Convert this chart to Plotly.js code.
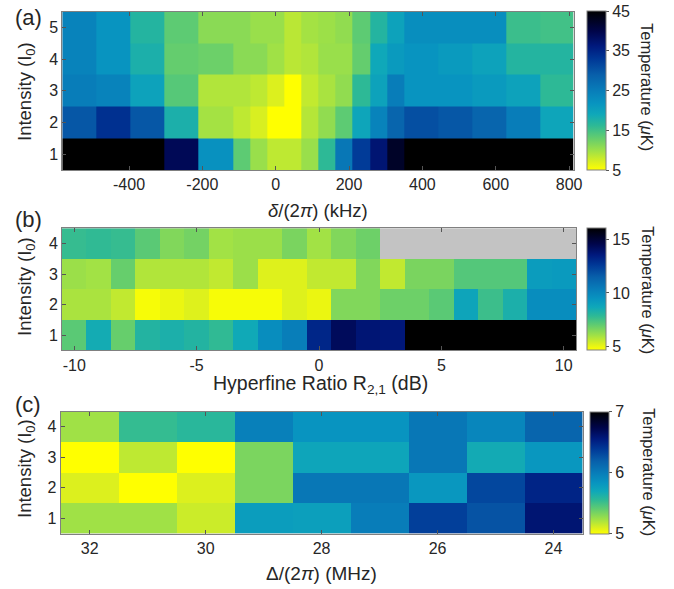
<!DOCTYPE html>
<html>
<head>
<meta charset="utf-8">
<script src="https://cdn.plot.ly/plotly-3.0.1.min.js"></script>
<style>html,body{margin:0;padding:0;background:#fff;}#chart{width:674px;height:589px;}</style>
</head>
<body>
<div id="chart"></div>
<script>
// ---------- DATA ----------
// Panel (a): detuning bin edges (kHz) and temperature (uK), rows = intensity 1..5
const detuningEdgesA = [-582,-489,-396,-303,-210,-117,-70,-23.5,23.5,70,117,163,210,257,303,350,443,536,629,722,812];
const intensityA = [1,2,3,4,5];
const tempA = [
  [45,45,45,39,22.2,13.4,10.2,8.4,8.4,10.2,16.2,25.8,32.6,37,42.2,45,45,45,45,45],
  [29.8,33.8,29.8,17.8,9.6,8.4,7.2,5,5,8.8,10.6,13.4,19.4,24.2,28.2,30.6,29.8,28.2,25,19.4],
  [25,24.2,19.8,13.8,9,9,8.4,7,5,8.2,9.4,10.6,16.2,19.8,25,21.8,21.8,21,19.8,16.2],
  [24.2,21.8,17.8,13,12.6,11,11,9.8,8.6,9,10.2,10.2,13,19,21,21.8,21,19.8,17,17],
  [24.2,21.8,17,13.4,11,11,10.2,10.2,8.6,9.6,10,10.6,13.4,17,19.8,22.6,22.6,22.6,15.4,15]
];
const ticksA = [-400,-200,0,200,400,600,800];
const tickTextA = ['-400','-200','0','200','400','600','800'];
const cbTicksA = [5,15,25,35,45];

// Panel (b): hyperfine ratio (dB), rows = intensity 1..4 (null = not measured)
const ratioB = [-10,-9,-8,-7,-6,-5,-4,-3,-2,-1,0,1,2,3,4,5,6,7,8,9,10];
const intensityB = [1,2,3,4];
const tempB = [
  [7.1,8.5,6.9,8.1,8.3,8.1,7.8,8.6,9.7,10.3,13.1,14.2,13.7,13.6,16,16,16,16,16,16,16],
  [5.9,5.9,5.6,4.8,5.0,5.2,4.8,4.8,4.8,5.2,5.0,6.5,6.5,6.8,6.8,7.1,8.8,7.6,8.3,9.7,9.7],
  [6.1,6.0,6.9,5.8,5.8,5.8,5.6,6.1,5.2,5.2,5.6,5.6,6.5,5.6,6.6,6.6,7.2,7.2,7.2,9.1,9.2],
  [7.7,7.8,7.7,7.1,6.5,6.7,6.0,6.1,6.1,6.6,6.0,6.5,6.8,null,null,null,null,null,null,null,null]
];
const ticksB = [-10,-5,0,5,10];
const tickTextB = ['-10','-5','0','5','10'];
const cbTicksB = [5,10,15];

// Panel (c): detuning Delta/(2pi) (MHz), rows = intensity 1..4
const deltaC = [32,31,30,29,28,27,26,25,24];
const intensityC = [1,2,3,4];
const tempC = [
  [5.24,5.24,5.14,5.78,5.76,6.0,6.36,6.26,6.6],
  [5.1,5.0,5.1,5.34,6.04,6.04,5.82,6.32,6.5],
  [5.0,5.17,5.0,5.34,5.72,5.72,6.04,5.68,5.82],
  [5.24,5.54,5.58,5.98,5.84,5.84,6.04,5.94,6.16]
];
const ticksC = [32,30,28,26,24];
const cbTicksC = [5,6,7];

// ---------- STYLE ----------
const W = 674, H = 589;
const px = x => x / W;
const py = y => 1 - y / H;
const FONT = '"Liberation Sans", Arial, Helvetica, sans-serif';
const TXT = '#262626';
const cscale = [
  [0,'rgb(255,255,0)'],[0.05,'rgb(220,240,30)'],[0.12,'rgb(160,225,70)'],
  [0.2,'rgb(100,205,110)'],[0.28,'rgb(45,185,150)'],[0.35,'rgb(15,168,185)'],
  [0.42,'rgb(8,148,192)'],[0.5,'rgb(8,125,185)'],[0.6,'rgb(8,95,170)'],
  [0.7,'rgb(0,55,150)'],[0.78,'rgb(0,25,125)'],[0.87,'rgb(0,5,75)'],[1,'rgb(0,0,0)']
];

function cbar(x0, top, bottom, tickvals) {
  return {
    x: px(x0), xanchor: 'left', xpad: 0,
    y: py(bottom), yanchor: 'bottom', ypad: 0,
    len: (bottom - top) / H, lenmode: 'fraction',
    thickness: 19, thicknessmode: 'pixels',
    outlinewidth: 1, outlinecolor: '#808080',
    ticks: 'outside', ticklen: 3, tickcolor: '#555',
    tickvals: tickvals, tickfont: {size: 16, color: TXT, family: FONT}
  };
}

const traces = [
  {type:'heatmap', x: detuningEdgesA, y: intensityA, z: tempA, zmin:5, zmax:45,
   colorscale: cscale, xaxis:'x', yaxis:'y', colorbar: cbar(587, 11.5, 170, cbTicksA)},
  {type:'heatmap', x: ratioB, y: intensityB, z: tempB, zmin:4.67, zmax:16,
   colorscale: cscale, xaxis:'x2', yaxis:'y2', colorbar: cbar(587, 228.3, 350.3, cbTicksB)},
  {type:'heatmap', x: deltaC, y: intensityC, z: tempC, zmin:5, zmax:7,
   colorscale: cscale, xaxis:'x3', yaxis:'y3', colorbar: cbar(590, 411.5, 533.5, cbTicksC)}
];

function axis(extra) {
  return Object.assign({
    showline: true, mirror: 'ticks', linecolor: '#808080', linewidth: 1,
    ticks: 'inside', ticklen: 4, tickcolor: '#555', showgrid: false, zeroline: false,
    tickfont: {size: 16, color: TXT, family: FONT}, fixedrange: true
  }, extra);
}

function ann(text, x, y, size, angle) {
  return {text: text, x: px(x), y: py(y), xref:'paper', yref:'paper',
    xanchor:'center', yanchor:'middle', showarrow:false, textangle: angle || 0,
    font: {size: size, color: TXT, family: FONT}};
}

const layout = {
  width: W, height: H,
  margin: {l:0, r:0, t:0, b:0},
  paper_bgcolor: '#fff', plot_bgcolor: '#c3c3c3',
  showlegend: false,
  xaxis: axis({domain:[px(62.3), px(573.5)], anchor:'y', range:[detuningEdgesA[0], detuningEdgesA[detuningEdgesA.length-1]], tickvals: ticksA, ticktext: tickTextA}),
  yaxis: axis({domain:[py(170), py(11.5)], anchor:'x', range:[0.5,5.5], tickvals: intensityA}),
  xaxis2: axis({domain:[px(62), px(576)], anchor:'y2', range:[-10.5,10.5], tickvals: ticksB, ticktext: tickTextB}),
  yaxis2: axis({domain:[py(350.3), py(228.3)], anchor:'x2', range:[0.5,4.5], tickvals: intensityB}),
  xaxis3: axis({domain:[px(60.7), px(582.5)], anchor:'y3', range:[32.5,23.5], tickvals: ticksC}),
  yaxis3: axis({domain:[py(533.5), py(411.5)], anchor:'x3', range:[0.5,4.5], tickvals: intensityC}),
  annotations: [
    ann('(a)', 28, 18, 22), ann('(b)', 28, 220, 22), ann('(c)', 28, 404, 22),
    ann('<i>δ</i>/(2<i>π</i>) (kHz)', 318, 210, 18.5),
    ann('Hyperfine Ratio R<sub>2,1</sub> (dB)', 320, 384, 19.5),
    ann('Δ/(2<i>π</i>) (MHz)', 321.5, 573, 19),
    ann('Intensity (I<sub>0</sub>)', 26, 92, 18.5, -90),
    ann('Intensity (I<sub>0</sub>)', 26, 287, 18.5, -90),
    ann('Intensity (I<sub>0</sub>)', 26, 469, 18.5, -90),
    ann('Temperature (<i>μ</i>K)', 647, 87, 16.5, 90),
    ann('Temperature (<i>μ</i>K)', 648, 290, 16.5, 90),
    ann('Temperature (<i>μ</i>K)', 649, 472, 16.5, 90)
  ]
};

Plotly.newPlot('chart', traces, layout, {displayModeBar: false, staticPlot: true});
</script>
</body>
</html>
